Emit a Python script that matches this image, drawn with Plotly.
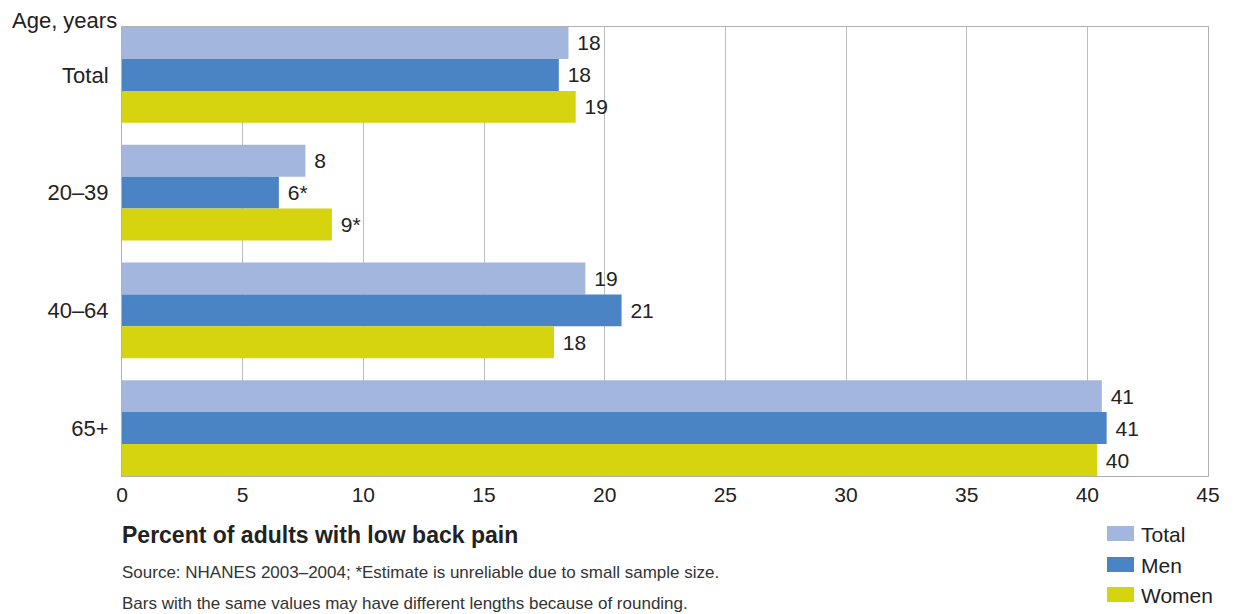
import plotly.graph_objects as go

categories = ["Total", "20–39", "40–64", "65+"]
total_vals = [18.5, 7.6, 19.2, 40.6]
men_vals = [18.1, 6.5, 20.7, 40.8]
women_vals = [18.8, 8.7, 17.9, 40.4]
total_labels = ["18", "8", "19", "41"]
men_labels = ["18", "6*", "21", "41"]
women_labels = ["19", "9*", "18", "40"]
x_ticks = [0, 5, 10, 15, 20, 25, 30, 35, 40, 45]
legend_names = ["Total", "Men", "Women"]

FONT = "Liberation Sans Narrow, Arial Narrow, Liberation Sans, sans-serif"
colors = ["#A3B6DD", "#4A84C4", "#D6D30F"]
series = [
    (legend_names[0], total_vals, total_labels, colors[0]),
    (legend_names[1], men_vals, men_labels, colors[1]),
    (legend_names[2], women_vals, women_labels, colors[2]),
]

W, H = 1228, 606
L, R, T, B = 114, 28, 19, 138
pw, ph = W - L - R, H - T - B

fig = go.Figure()
for name, vals, labels, color in series:
    fig.add_trace(go.Bar(
        name=name, y=categories, x=vals, orientation="h",
        marker=dict(color=color, line=dict(width=0)),
        text=[" " + s for s in labels], textposition="outside", cliponaxis=False,
        textfont=dict(size=21, color="#222222", family=FONT),
        hoverinfo="x+y+name",
    ))

def px_x(xpix):
    return (xpix - 8 - L) / pw

def px_y(ypix):
    return 1 - (ypix - 8 - T) / ph

shapes = []
annotations = [
    dict(text="Age, years", xref="paper", yref="paper", x=px_x(10), y=px_y(20),
         xanchor="left", yanchor="middle", showarrow=False,
         font=dict(size=22, family=FONT, color="#222222")),
    dict(text="<b>Percent of adults with low back pain</b>", xref="paper", yref="paper",
         x=px_x(120), y=px_y(535), xanchor="left", yanchor="middle", showarrow=False,
         font=dict(size=23, family=FONT, color="#222222")),
    dict(text="Source: NHANES 2003–2004; *Estimate is unreliable due to small sample size.",
         xref="paper", yref="paper", x=px_x(120), y=px_y(572), xanchor="left", yanchor="middle",
         showarrow=False, font=dict(size=17, family=FONT, color="#333333")),
    dict(text="Bars with the same values may have different lengths because of rounding.",
         xref="paper", yref="paper", x=px_x(120), y=px_y(603), xanchor="left", yanchor="middle",
         showarrow=False, font=dict(size=17, family=FONT, color="#333333")),
]
legend_y = [534, 565, 595]
for name, color, yc in zip(legend_names, colors, legend_y):
    shapes.append(dict(type="rect", xref="paper", yref="paper",
                       x0=px_x(1107), x1=px_x(1134), y0=px_y(yc - 8), y1=px_y(yc + 7),
                       fillcolor=color, line=dict(width=0)))
    annotations.append(dict(text=name, xref="paper", yref="paper", x=px_x(1139), y=px_y(yc),
                            xanchor="left", yanchor="middle", showarrow=False,
                            font=dict(size=21, family=FONT, color="#222222")))

fig.update_layout(
    width=W, height=H,
    margin=dict(l=L, r=R, t=T, b=B),
    paper_bgcolor="white", plot_bgcolor="white",
    barmode="group", bargap=0.186, bargroupgap=0,
    font=dict(family=FONT, color="#222222"),
    showlegend=False,
    xaxis=dict(
        range=[0, 45], tickvals=x_ticks, ticks="", showgrid=True,
        gridcolor="#BDBDBD", gridwidth=1, zeroline=False,
        showline=True, linecolor="#B0B0B0", linewidth=1, mirror=True,
        tickfont=dict(size=21, family=FONT, color="#222222"),
    ),
    yaxis=dict(
        categoryorder="array", categoryarray=categories,
        range=[3.407, -0.407], ticks="", showgrid=False,
        showline=True, linecolor="#B0B0B0", linewidth=1, mirror=True,
        tickfont=dict(size=22, family=FONT, color="#222222"),
        ticklabelstandoff=8,
    ),
    shapes=shapes,
    annotations=annotations,
)

fig.write_html("out.html")
